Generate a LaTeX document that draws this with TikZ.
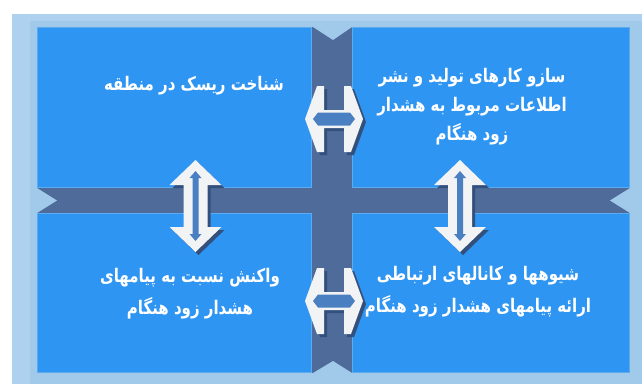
\documentclass[tikz,border=0pt]{standalone}
\usepackage{fontspec}
\TeXXeTstate=1
\newfontfamily\arabicfont[Script=Arabic]{DejaVu Sans}
\newcommand{\arline}[1]{\scalebox{1}[1.25]{\beginR #1\endR}}
\definecolor{bgblue}{HTML}{A0C9EA}
\definecolor{rimblue}{HTML}{ADD1EE}
\definecolor{barcol}{HTML}{4E6B9A}
\definecolor{boxcol}{HTML}{2F95F2}
\definecolor{boxedge}{HTML}{5AACEE}
\definecolor{arrwhite}{HTML}{F2F3F5}
\definecolor{arrinner}{HTML}{4A7FC2}
\definecolor{arrshadow}{HTML}{33507C}
\tikzset{
  quad/.style={fill=boxcol, draw=boxedge, line width=1pt, inner sep=0pt, outer sep=0pt},
  txt/.style={text=white, align=center, inner sep=0pt, font=\arabicfont\bfseries\fontsize{15}{30}\selectfont},
  harrow/.pic={
    \fill[arrshadow, shift={(3,3)}] (-29,0) -- (-17,-33) -- (-10,-33) -- (-10,-9) -- (10,-9) -- (10,-33) -- (17,-33) -- (29,0) -- (17,33) -- (10,33) -- (10,9) -- (-10,9) -- (-10,33) -- (-17,33) -- cycle;
    \fill[arrwhite] (-29,0) -- (-17,-33) -- (-10,-33) -- (-10,-9) -- (10,-9) -- (10,-33) -- (17,-33) -- (29,0) -- (17,33) -- (10,33) -- (10,9) -- (-10,9) -- (-10,33) -- (-17,33) -- cycle;
    \fill[arrinner] (-21,0) -- (-16,-6.5) -- (16,-6.5) -- (21,0) -- (16,6.5) -- (-16,6.5) -- cycle;
  },
  varrow/.pic={
    \fill[arrshadow, shift={(3,3)}] (0,-46) -- (26,-21) -- (12,-21) -- (12,21) -- (26,21) -- (0,46) -- (-26,21) -- (-12,21) -- (-12,-21) -- (-26,-21) -- cycle;
    \fill[arrwhite] (0,-46) -- (26,-21) -- (12,-21) -- (12,21) -- (26,21) -- (0,46) -- (-26,21) -- (-12,21) -- (-12,-21) -- (-26,-21) -- cycle;
    \fill[arrinner] (0,-35) -- (6,-28) -- (3,-28) -- (3,28) -- (6,28) -- (0,35) -- (-6,28) -- (-3,28) -- (-3,-28) -- (-6,-28) -- cycle;
  }
}
\begin{document}
\begin{tikzpicture}[x=1pt,y=-1pt]
\useasboundingbox (0,0) rectangle (642,384);
\fill[white] (0,0) rectangle (642,384);
\fill[bgblue] (12,14) rectangle (642,384);
\fill[rimblue] (12,14) rectangle (30,384);
\fill[rimblue] (12,14) rectangle (642,21);
% bars
\fill[barcol] (37,27) rectangle (630,373);
% boxes
\node[quad, minimum width=274pt, minimum height=160pt] (tl) at (174.5,107.5) {};
\node[quad, minimum width=277pt, minimum height=160pt] (tr) at (491,107.5) {};
\node[quad, minimum width=274pt, minimum height=159pt] (bl) at (174.5,293) {};
\node[quad, minimum width=277pt, minimum height=159pt] (br) at (491,293) {};
% notches
\fill[bgblue] (313,27) -- (352,27) -- (333,40) -- cycle;
\fill[bgblue] (313,373) -- (352,373) -- (333,361) -- cycle;
\fill[bgblue] (37,188) -- (37,213) -- (57,200.5) -- cycle;
\fill[bgblue] (630,188) -- (630,213) -- (610,200.5) -- cycle;
% arrows
\pic at (334,119) {harrow};
\pic at (334,301) {harrow};
\pic at (195.5,206) {varrow};
\pic at (460,206) {varrow};
% texts
\node[txt] (t1) at (194,86) {\arline{شناخت ریسک در منطقه}};
\node[txt, font=\arabicfont\bfseries\fontsize{15}{29}\selectfont] (t2) at (472,107) {\arline{سازو کارهای تولید و نشر}\\\arline{اطلاعات مربوط به هشدار}\\\arline{زود هنگام}};
\node[txt, font=\arabicfont\bfseries\fontsize{15}{32}\selectfont] (t3) at (190,294) {\arline{واکنش نسبت به پیامهای}\\\arline{هشدار زود هنگام}};
\node[txt, font=\arabicfont\bfseries\fontsize{15}{32}\selectfont] (t4) at (478,291.5) {\arline{شیوهها و کانالهای ارتباطی}\\\arline{ارائه پیامهای هشدار زود هنگام}};
\end{tikzpicture}
\end{document}
